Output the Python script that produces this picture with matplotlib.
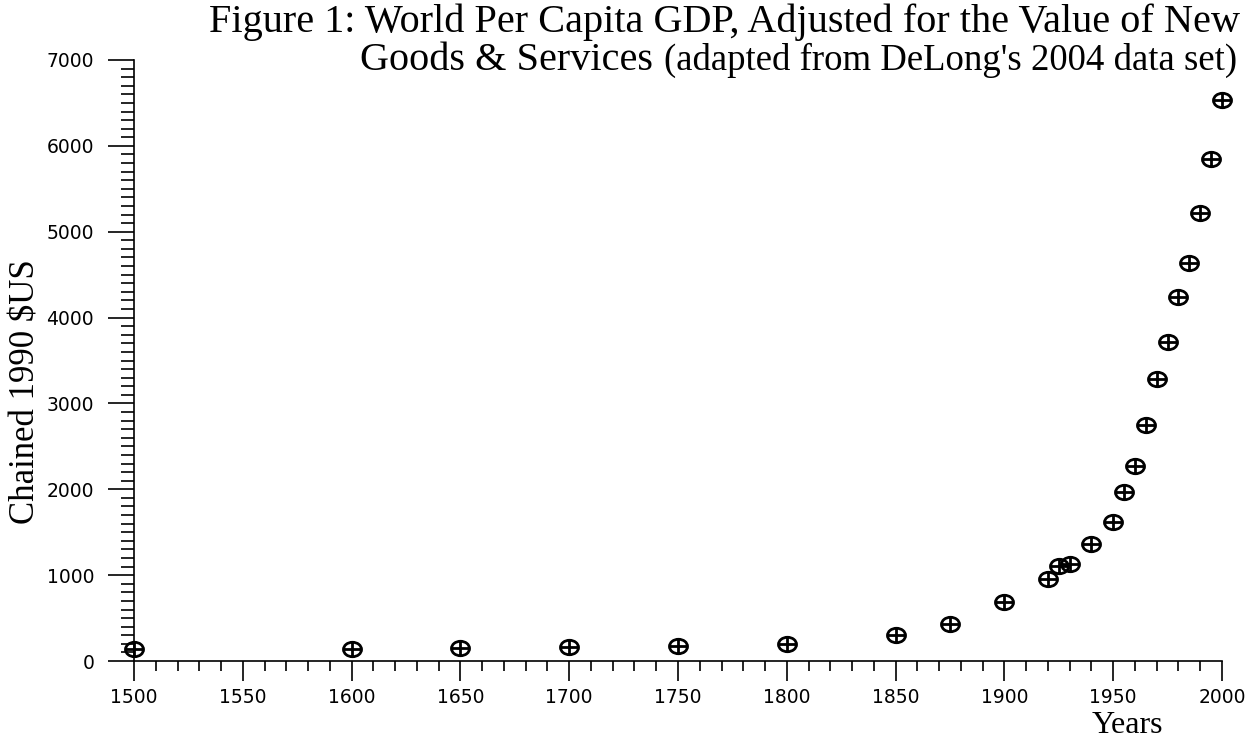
import numpy as np
import matplotlib
matplotlib.use('Agg')
import matplotlib.pyplot as plt
from matplotlib.path import Path
from matplotlib.transforms import Affine2D
from matplotlib.ticker import MultipleLocator

# world per capita GDP, chained 1990 $US
years = [1500, 1600, 1650, 1700, 1750, 1800, 1850, 1875, 1900, 1920, 1925, 1930,
         1940, 1950, 1955, 1960, 1965, 1970, 1975, 1980, 1985, 1990, 1995, 2000]
gdp = [140, 140, 150, 165, 175, 195, 300, 430, 690, 955, 1110, 1130,
       1360, 1620, 1970, 2270, 2750, 3285, 3715, 4240, 4635, 5220, 5850, 6535]

# circle-plus marker, slightly wider than tall
circ = Path.unit_circle().transformed(Affine2D().scale(1.0, 0.8))
cross = Path([(-1, 0), (1, 0), (0, -0.8), (0, 0.8)],
             [Path.MOVETO, Path.LINETO, Path.MOVETO, Path.LINETO])
oplus = Path.make_compound_path(circ, cross)

fig = plt.figure(figsize=(12.5, 7.38), dpi=100)
ax = fig.add_axes([0.1072, 0.1043, 0.8704, 0.8144])

ax.plot(years, gdp, linestyle='none', marker=oplus, markersize=13,
        markerfacecolor='none', markeredgecolor='black', markeredgewidth=2,
        clip_on=False)

ax.set_xlim(1500, 2000)
ax.set_ylim(0, 7000)
ax.xaxis.set_major_locator(MultipleLocator(50))
ax.xaxis.set_minor_locator(MultipleLocator(10))
ax.yaxis.set_major_locator(MultipleLocator(1000))
ax.yaxis.set_minor_locator(MultipleLocator(100))

for s in ['top', 'right']:
    ax.spines[s].set_visible(False)
for s in ['left', 'bottom']:
    ax.spines[s].set_linewidth(1.2)

ax.tick_params(axis='x', which='major', direction='out', length=14.5, width=1.2,
               pad=5, labelsize=13.5)
ax.tick_params(axis='x', which='minor', direction='out', length=7.2, width=1.2)
ax.tick_params(axis='y', which='major', direction='out', length=18.7, width=1.2,
               pad=10, labelsize=13.5)
ax.tick_params(axis='y', which='minor', direction='out', length=9.4, width=1.2)

serif = 'Liberation Serif'
fig.text(0.992, 0.957, 'Figure 1: World Per Capita GDP, Adjusted for the Value of New',
         family=serif, fontsize=29, ha='right', va='baseline')
fig.text(0.990, 0.905, "(adapted from DeLong's 2004 data set)",
         family=serif, fontsize=26.5, ha='right', va='baseline')
fig.text(0.5225, 0.905, 'Goods & Services', family=serif, fontsize=29,
         ha='right', va='baseline')

fig.text(0.902, 0.007, 'Years', family=serif, fontsize=23, ha='center', va='baseline')
fig.text(0.021, 0.47, 'Chained 1990 $US', family=serif, fontsize=25,
         rotation=90, ha='center', va='center')

fig.savefig('out.png', dpi=100)
